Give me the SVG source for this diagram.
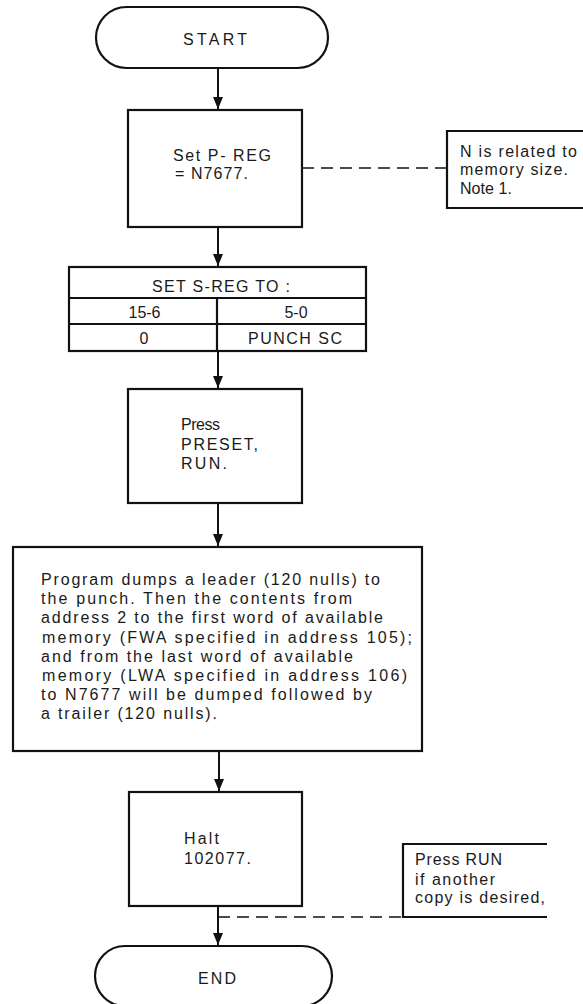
<svg xmlns="http://www.w3.org/2000/svg" width="583" height="1004" viewBox="0 0 583 1004">
<style>
.shape{fill:none;stroke:#111;stroke-width:2.2}
.note{fill:none;stroke:#111;stroke-width:2.2}
.flow{fill:none;stroke:#111;stroke-width:2}
.dash{fill:none;stroke:#111;stroke-width:1.6;stroke-dasharray:12 7}
text{font-family:"Liberation Sans",Arial,sans-serif;font-size:16px;fill:#1a1a1a}
</style>
<defs>
<marker id="ah" viewBox="0 0 12 10" refX="12" refY="5" markerWidth="12" markerHeight="10" markerUnits="userSpaceOnUse" orient="auto">
<path d="M0,0 L12,5 L0,10 Z" fill="#111"/>
</marker>
</defs>
<rect width="583" height="1004" fill="#fff"/>
<g id="connectors">
<line class="flow" x1="218" y1="68" x2="218" y2="109" marker-end="url(#ah)"/>
<line class="flow" x1="218" y1="227" x2="218" y2="266" marker-end="url(#ah)"/>
<line class="flow" x1="218" y1="351" x2="218" y2="388" marker-end="url(#ah)"/>
<line class="flow" x1="218" y1="503" x2="218" y2="546" marker-end="url(#ah)"/>
<line class="flow" x1="219" y1="751" x2="219" y2="791" marker-end="url(#ah)"/>
<line class="flow" x1="218" y1="906" x2="218" y2="945" marker-end="url(#ah)"/>
<line class="dash" x1="302" y1="168" x2="447" y2="168"/>
<line class="dash" x1="218" y1="917" x2="403" y2="917"/>
</g>
<g id="start">
<rect class="shape" x="96" y="7" width="232" height="61" rx="30.5" ry="30.5"/>
<text x="183" y="45" textLength="64" lengthAdjust="spacing">START</text>
</g>
<g id="set-preg">
<rect class="shape" x="128" y="110" width="174" height="117"/>
<text x="173" y="161" textLength="98" lengthAdjust="spacing">Set P- REG</text>
<text x="175" y="179" textLength="73" lengthAdjust="spacing">= N7677.</text>
</g>
<g id="note-n">
<path class="note" d="M583,131 H447 V208 H583"/>
<text x="460" y="157" textLength="117" lengthAdjust="spacing">N is related to</text>
<text x="460" y="175" textLength="108" lengthAdjust="spacing">memory size.</text>
<text x="460" y="194" textLength="52" lengthAdjust="spacing">Note 1.</text>
</g>
<g id="sreg-table">
<rect class="shape" x="69" y="267" width="297" height="84"/>
<line class="shape" x1="69" y1="298" x2="366" y2="298"/>
<line class="shape" x1="69" y1="324" x2="366" y2="324"/>
<line class="shape" x1="217" y1="298" x2="217" y2="351" stroke-width="1.6"/>
<text x="152" y="292" textLength="138" lengthAdjust="spacing">SET S-REG TO :</text>
<text x="144.5" y="318" text-anchor="middle">15-6</text>
<text x="296" y="318" text-anchor="middle">5-0</text>
<text x="144" y="344" text-anchor="middle">0</text>
<text x="248" y="344" textLength="94" lengthAdjust="spacing">PUNCH SC</text>
</g>
<g id="press-preset">
<rect class="shape" x="128" y="389" width="174" height="114"/>
<text x="181" y="430" textLength="39" lengthAdjust="spacing">Press</text>
<text x="181" y="450" textLength="77" lengthAdjust="spacing">PRESET,</text>
<text x="181" y="469" textLength="46" lengthAdjust="spacing">RUN.</text>
</g>
<g id="dump">
<rect class="shape" x="13" y="547" width="409" height="204"/>
<text x="41" y="585" textLength="339" lengthAdjust="spacing">Program dumps a leader (120 nulls) to</text>
<text x="41" y="604" textLength="311" lengthAdjust="spacing">the punch. Then the contents from</text>
<text x="41" y="623" textLength="342" lengthAdjust="spacing">address 2 to the first word of available</text>
<text x="42" y="643" textLength="370" lengthAdjust="spacing">memory (FWA specified in address 105);</text>
<text x="41" y="662" textLength="312" lengthAdjust="spacing">and from the last word of available</text>
<text x="42" y="681" textLength="365" lengthAdjust="spacing">memory (LWA specified in address 106)</text>
<text x="41" y="700" textLength="331" lengthAdjust="spacing">to N7677 will be dumped followed by</text>
<text x="41" y="719" textLength="176" lengthAdjust="spacing">a trailer (120 nulls).</text>
</g>
<g id="halt">
<rect class="shape" x="129" y="792" width="173" height="114"/>
<text x="184" y="844" textLength="35" lengthAdjust="spacing">Halt</text>
<text x="184" y="864" textLength="67" lengthAdjust="spacing">102077.</text>
</g>
<g id="note-run">
<path class="note" d="M547,844 H403 V917 H547"/>
<text x="415" y="865" textLength="87" lengthAdjust="spacing">Press RUN</text>
<text x="415" y="885" textLength="80" lengthAdjust="spacing">if another</text>
<text x="415" y="903" textLength="130" lengthAdjust="spacing">copy is desired,</text>
</g>
<g id="end">
<rect class="shape" x="95" y="946" width="237" height="60" rx="30" ry="30"/>
<text x="198" y="984" textLength="38" lengthAdjust="spacing">END</text>
</g>
</svg>
